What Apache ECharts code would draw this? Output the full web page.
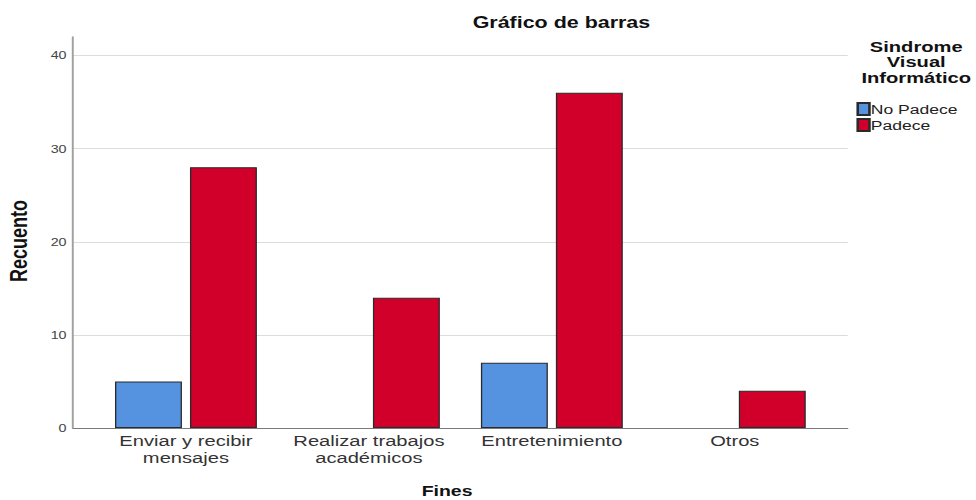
<!DOCTYPE html>
<html>
<head>
<meta charset="utf-8">
<script src="https://cdn.jsdelivr.net/npm/echarts@6/dist/echarts.min.js"></script>
<style>
html,body{margin:0;padding:0;background:#fff;overflow:hidden;}
#chart{width:751px;height:500px;transform:scaleX(1.2996);transform-origin:0 0;}
</style>
</head>
<body>
<div id="chart"></div>
<script>
var categories = ['Enviar y recibir\nmensajes', 'Realizar trabajos\nacadémicos', 'Entretenimiento', 'Otros'];
var seriesNames = ['No Padece', 'Padece'];
var noPadece = [5, null, 7, null];
var padece = [28, 14, 36, 4];
var yMin = 0, yMax = 42, yInterval = 10;

var FONT = '"Liberation Sans", Arial, sans-serif';
var chart = echarts.init(document.getElementById('chart'), null, {renderer: 'svg'});
var gridLineColors = [];
for (var v = yMin; v <= yMax; v += yInterval) gridLineColors.push('#dcdcdc');
gridLineColors.push('rgba(0,0,0,0)');

chart.setOption({
  animation: false,
  backgroundColor: '#fff',
  textStyle: {fontFamily: FONT},
  title: {
    text: 'Gráfico de barras',
    left: 432, top: 14, textAlign: 'center', padding: 0,
    textStyle: {fontFamily: FONT, fontSize: 16.5, fontWeight: 'bold', color: '#111'}
  },
  legend: {
    orient: 'vertical', left: 659, top: 102, padding: 0,
    icon: 'rect', itemWidth: 9, itemHeight: 12, itemGap: 2,
    data: seriesNames,
    textStyle: {fontFamily: FONT, fontSize: 13.5, color: '#222', padding: [0, 0, 0, -4]}
  },
  graphic: [
    {type: 'text', x: 705, y: 39, style: {text: 'Sindrome\nVisual\nInformático', font: 'bold 15.5px ' + FONT, textAlign: 'center', lineHeight: 15.5, fill: '#111'}},
    {type: 'text', x: 344, y: 491, style: {text: 'Fines', font: 'bold 15px ' + FONT, textAlign: 'center', textVerticalAlign: 'middle', fill: '#111'}},
    {type: 'text', x: 14, y: 241, rotation: Math.PI / 2, style: {text: 'Recuento', font: 'bold 18px ' + FONT, textAlign: 'center', textVerticalAlign: 'middle', fill: '#111'}}
  ],
  grid: [
    {left: 56.2, right: 98.7, top: 37, bottom: 72},
    {left: 72.7, right: 115.2, top: 37, bottom: 72}
  ],
  xAxis: [
    {gridIndex: 0, type: 'value', min: 0, max: 1,
     axisLine: {show: true, lineStyle: {color: '#7a7a7a', width: 1}},
     axisTick: {show: false}, axisLabel: {show: false}, splitLine: {show: false}},
    {gridIndex: 1, type: 'category', data: categories,
     axisLine: {show: false}, axisTick: {show: false},
     axisLabel: {fontFamily: FONT, fontSize: 15.5, color: '#333', margin: 5, lineHeight: 16.5, interval: 0}}
  ],
  yAxis: [
    {gridIndex: 0, type: 'value', min: yMin, max: yMax, interval: yInterval,
     axisLine: {show: true, lineStyle: {color: '#a0a0a0', width: 1.5}},
     axisTick: {show: false},
     axisLabel: {fontFamily: FONT, fontSize: 11, color: '#444', margin: 5, showMaxLabel: false,
       formatter: function (val) { return val % yInterval === 0 ? String(val) : ''; }},
     splitLine: {show: true, lineStyle: {color: gridLineColors, width: 1}}},
    {gridIndex: 1, type: 'value', min: yMin, max: yMax, interval: yInterval, show: false}
  ],
  series: [
    {name: seriesNames[0], type: 'bar', xAxisIndex: 1, yAxisIndex: 1, data: noPadece,
     barWidth: 51.5, barGap: '12%',
     itemStyle: {color: '#5593e0', borderColor: '#2a2a2a', borderWidth: 1}},
    {name: seriesNames[1], type: 'bar', xAxisIndex: 1, yAxisIndex: 1, data: padece,
     barWidth: 51.5, barGap: '12%',
     itemStyle: {color: '#d1002b', borderColor: '#2a2a2a', borderWidth: 1}}
  ]
});
</script>
</body>
</html>
